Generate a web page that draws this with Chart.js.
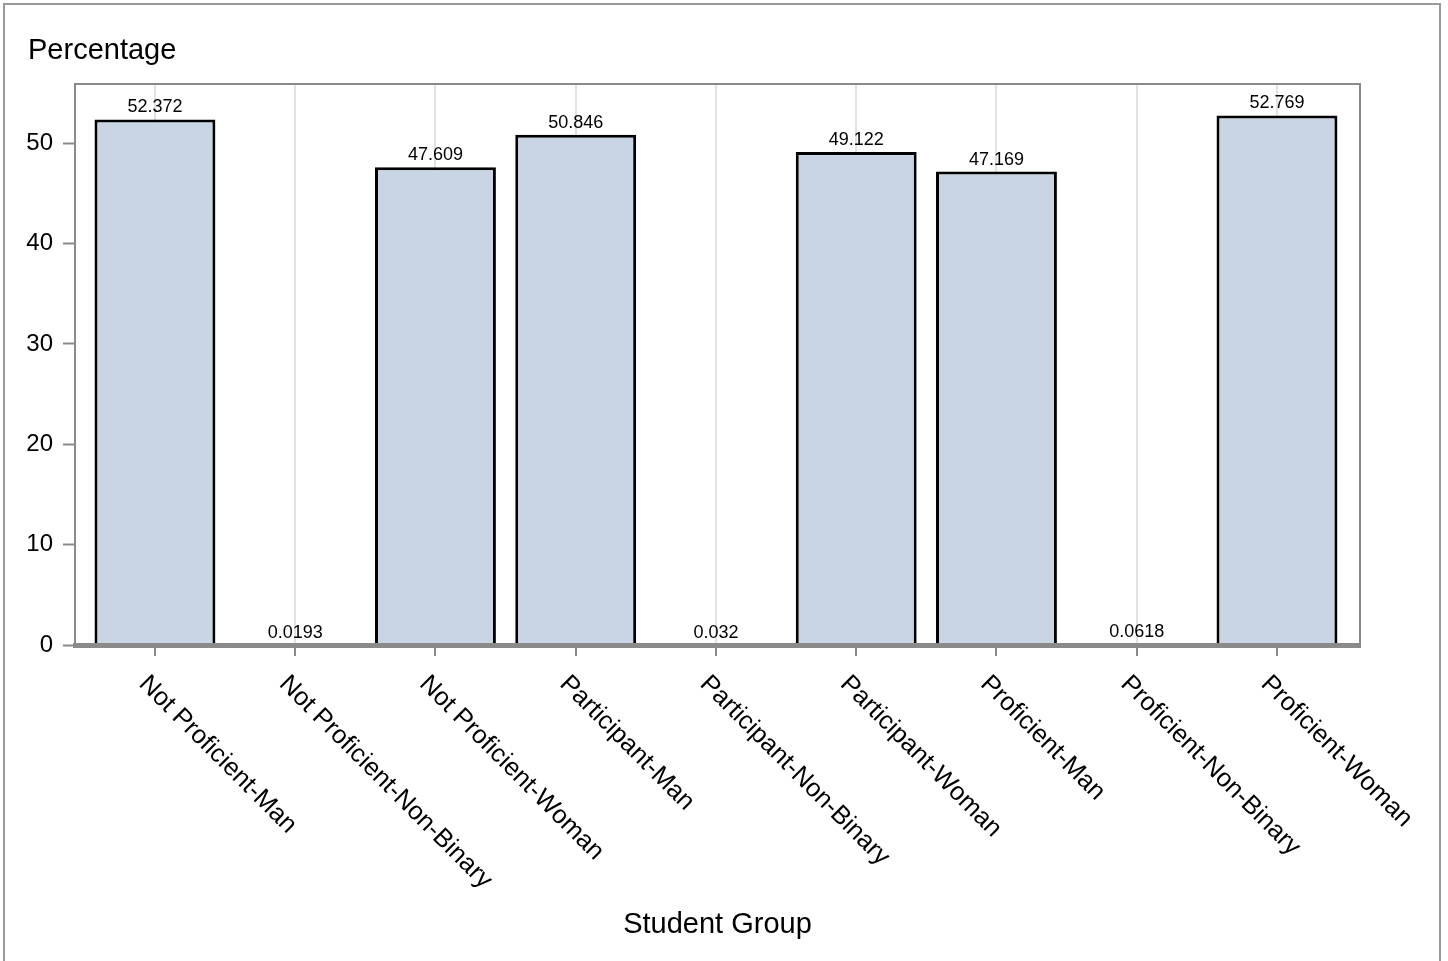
<!DOCTYPE html>
<html>
<head>
<meta charset="utf-8">
<script src="https://cdn.jsdelivr.net/npm/chart.js@4.4.1/dist/chart.umd.min.js"></script>
<style>
  body { margin: 0; background: #fff; }
  #chart { display: block; }
</style>
</head>
<body>
<canvas id="chart" width="1448" height="961"></canvas>
<script>
// Student group percentages (bar chart)
const groupLabels = [
    'Not Proficient-Man', 'Not Proficient-Non-Binary', 'Not Proficient-Woman',
    'Participant-Man', 'Participant-Non-Binary', 'Participant-Woman',
    'Proficient-Man', 'Proficient-Non-Binary', 'Proficient-Woman'
];
const percentValues = [52.372, 0.0193, 47.609, 50.846, 0.032, 49.122, 47.169, 0.0618, 52.769];
const yTickValues = [0, 10, 20, 30, 40, 50];

const FONT = '"Liberation Sans", Arial, sans-serif';
const axisGrey = '#8a8a8a';

// frame, titles, bar values and rotated category labels
const decorPlugin = {
    id: 'decor',
    afterDatasetsDraw(chart) {
        const c = chart.ctx;
        const meta = chart.getDatasetMeta(0);
        c.save();
        c.fillStyle = '#000';
        c.font = '18px ' + FONT;
        c.textAlign = 'center';
        c.textBaseline = 'alphabetic';
        meta.data.forEach((bar, i) => {
            c.fillText(String(percentValues[i]), bar.x, bar.y - 7);
        });
        c.restore();
    },
    afterDraw(chart) {
        const c = chart.ctx;
        const area = chart.chartArea;
        const xs = chart.scales.x;
        c.save();
        // outer border
        c.strokeStyle = '#9a9a9a';
        c.lineWidth = 2;
        c.strokeRect(4, 4, 1436, 1000);
        // top and right of the plot frame
        c.strokeStyle = axisGrey;
        c.beginPath();
        c.moveTo(area.left, area.top);
        c.lineTo(area.right, area.top);
        c.lineTo(area.right, area.bottom);
        c.stroke();

        c.fillStyle = '#000';
        c.font = '29px ' + FONT;
        c.textAlign = 'left';
        c.textBaseline = 'alphabetic';
        c.fillText('Percentage', 28, 59);

        c.textAlign = 'center';
        c.fillText('Student Group', (area.left + area.right) / 2, 933);

        c.font = '25.5px ' + FONT;
        c.textAlign = 'left';
        c.textBaseline = 'middle';
        groupLabels.forEach((lab, i) => {
            const x = xs.getPixelForValue(i);
            c.save();
            c.translate(x - 12, 680);
            c.rotate(Math.PI / 4);
            c.fillText(lab, 0, 0);
            c.restore();
        });
        c.restore();
    }
};

new Chart(document.getElementById('chart'), {
    type: 'bar',
    data: {
        datasets: [{
            data: percentValues.map((v, i) => ({ x: i, y: v })),
            backgroundColor: '#c9d5e4',
            borderColor: '#000',
            borderWidth: 3,
            barPercentage: 0.862,
            categoryPercentage: 1
        }]
    },
    options: {
        responsive: false,
        animation: false,
        layout: { padding: { left: 0, top: 84, right: 88, bottom: 0 } },
        scales: {
            x: {
                type: 'linear',
                offset: false,
                min: -0.570,
                max: 8.592,
                afterBuildTicks: s => { s.ticks = groupLabels.map((_, i) => ({ value: i })); },
                afterFit: s => { s.height = 316; },
                ticks: { display: false },
                grid: {
                    offset: false,
                    color: '#e2e2e2',
                    lineWidth: 2,
                    drawTicks: true,
                    tickLength: 11,
                    tickColor: axisGrey,
                    tickWidth: 2
                },
                border: { color: axisGrey, width: 5, z: 1 }
            },
            y: {
                min: 0,
                max: 55.9,
                afterBuildTicks: s => { s.ticks = yTickValues.map(v => ({ value: v })); },
                afterFit: s => { s.width = 75; },
                ticks: {
                    color: '#000',
                    font: { family: FONT, size: 24 },
                    padding: 10
                },
                grid: {
                    drawOnChartArea: false,
                    drawTicks: true,
                    tickLength: 12,
                    tickColor: axisGrey,
                    tickWidth: 2
                },
                border: { color: axisGrey, width: 2 }
            }
        },
        plugins: {
            legend: { display: false },
            tooltip: { enabled: false }
        }
    },
    plugins: [decorPlugin]
});
</script>
</body>
</html>
